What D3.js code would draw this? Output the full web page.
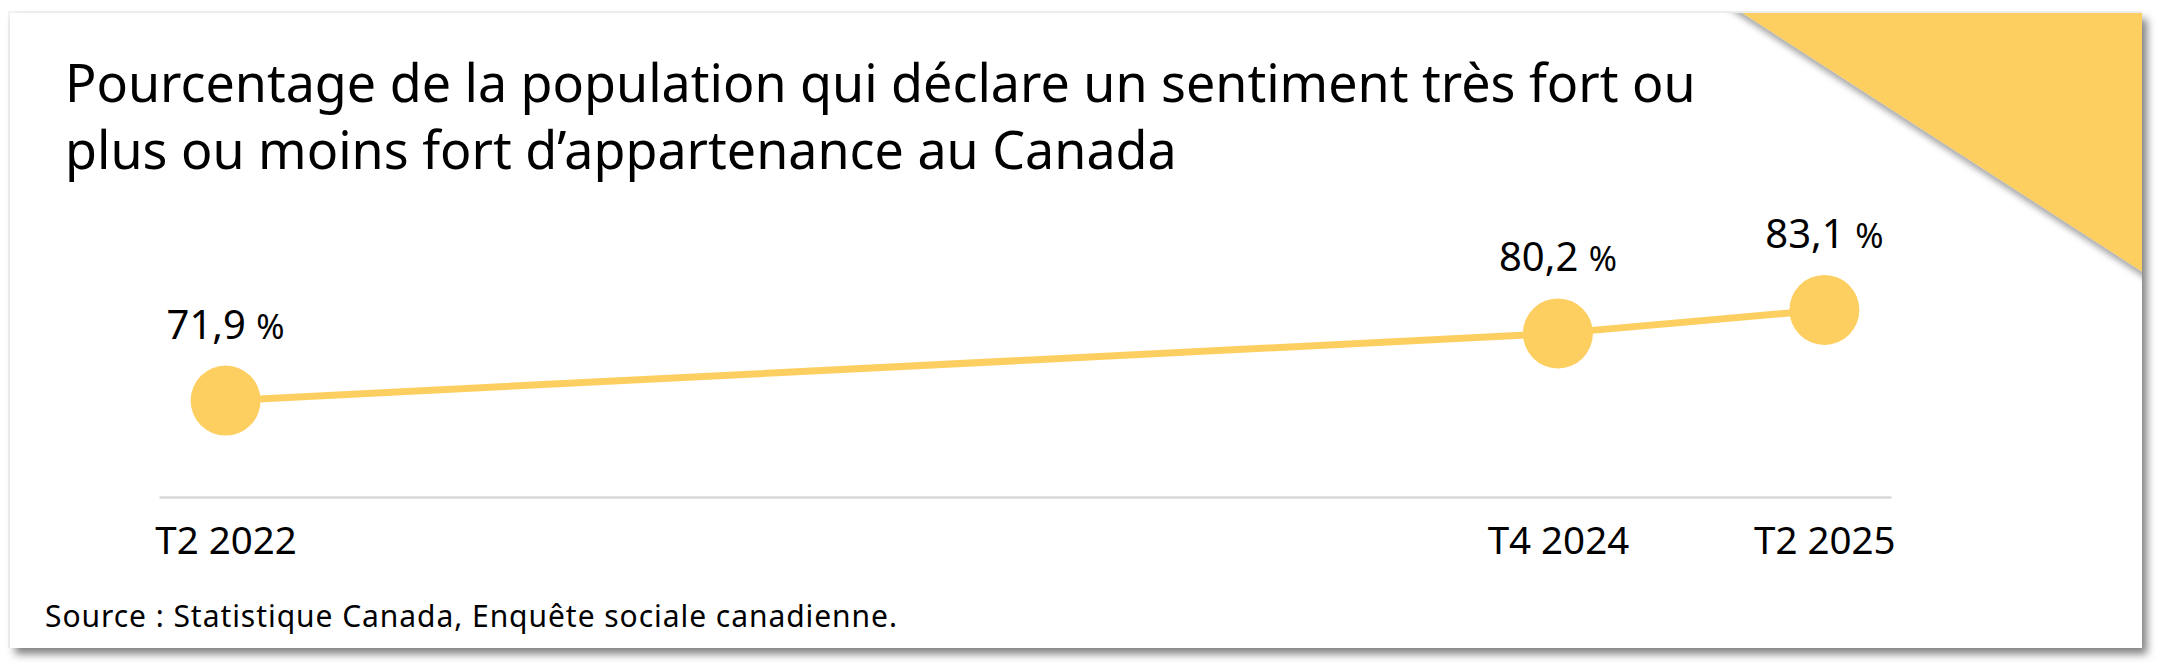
<!DOCTYPE html>
<html>
<head>
<meta charset="utf-8">
<script src="https://cdn.jsdelivr.net/npm/d3@7"></script>
<style>
  html, body { margin: 0; padding: 0; background: #ffffff; }
  svg { display: block; font-family: "Noto Sans", "Open Sans", sans-serif; }
</style>
</head>
<body>
<svg id="chart" width="2168" height="663"></svg>
<script>
// ---- Data ----
const titleLines = [
  "Pourcentage de la population qui déclare un sentiment très fort ou",
  "plus ou moins fort d\u2019appartenance au Canada"
];
const periods = ["T2 2022", "T4 2024", "T2 2025"];
const values = [71.9, 80.2, 83.1];
const sourceText = "Source : Statistique Canada, Enquête sociale canadienne.";

// ---- Setup ----
const W = 2168, H = 663;
const yellow = "#FDCF61";
const svg = d3.select("#chart");

const defs = svg.append("defs");
const f = defs.append("filter").attr("id", "cardShadow")
  .attr("x", "-5%").attr("y", "-10%").attr("width", "110%").attr("height", "125%");
f.append("feDropShadow").attr("dx", 5).attr("dy", 6).attr("stdDeviation", 4.5)
  .attr("flood-color", "#000").attr("flood-opacity", 0.5);
const f2 = defs.append("filter").attr("id", "triShadow")
  .attr("x", "-20%").attr("y", "-20%").attr("width", "140%").attr("height", "140%");
f2.append("feDropShadow").attr("dx", -1).attr("dy", 4).attr("stdDeviation", 3)
  .attr("flood-color", "#000").attr("flood-opacity", 0.35);

const card = { x0: 10, y0: 13, x1: 2142, y1: 648 };

// faint top/left shadow
svg.append("rect")
  .attr("x", card.x0 - 2).attr("y", card.y0 - 2)
  .attr("width", card.x1 - card.x0 + 2).attr("height", card.y1 - card.y0 + 2)
  .attr("fill", "#f3f3f3");

svg.append("rect")
  .attr("x", card.x0).attr("y", card.y0)
  .attr("width", card.x1 - card.x0).attr("height", card.y1 - card.y0)
  .attr("fill", "#ffffff")
  .attr("filter", "url(#cardShadow)");

// corner triangle (clipped to card)
defs.append("clipPath").attr("id", "cardClip")
  .append("rect").attr("x", card.x0).attr("y", card.y0)
  .attr("width", card.x1 - card.x0).attr("height", card.y1 - card.y0);
svg.append("g").attr("clip-path", "url(#cardClip)")
  .append("path")
  .attr("d", `M1727,${card.y0 - 10} L${card.x1 + 10},${card.y0 - 10} L${card.x1 + 10},${272 + 6} Z`)
  .attr("fill", yellow)
  .attr("filter", "url(#triShadow)");

// Title
const title = svg.append("text")
  .attr("font-size", 52)
  .attr("fill", "#000");
titleLines.forEach((t, i) => {
  title.append("tspan").attr("x", 65).attr("y", 102 + i * 67).text(t);
});

// ---- Scales ----
const qIndex = p => {
  const m = p.match(/T(\d)\s+(\d{4})/);
  return (+m[2]) * 4 + (+m[1] - 1);
};
const q0 = qIndex(periods[0]);
const qs = periods.map(p => qIndex(p) - q0);

const x = d3.scaleLinear()
  .domain([-0.5, d3.max(qs) + 0.5])
  .range([159, 1891]);
const y = d3.scaleLinear()
  .domain([60, 100])
  .range([497, 173]);

// Axis
const axis = d3.axisBottom(x)
  .tickValues(qs)
  .tickFormat((d, i) => periods[i])
  .tickSize(0)
  .tickSizeOuter(0)
  .tickPadding(30);

const ax = svg.append("g")
  .attr("transform", `translate(0,${y(60)})`)
  .call(axis);
ax.select(".domain").attr("stroke", "#d9d9d9").attr("stroke-width", 2.5);
ax.selectAll(".tick text")
  .attr("font-family", "\"Noto Sans\", \"Open Sans\", sans-serif")
  .attr("font-size", 38.5)
  .attr("fill", "#000");

// Line
const pts = periods.map((p, i) => ({ p, q: qs[i], v: values[i] }));
svg.append("path")
  .datum(pts)
  .attr("d", d3.line().x(d => x(d.q)).y(d => y(d.v)))
  .attr("fill", "none")
  .attr("stroke", yellow)
  .attr("stroke-width", 7);

svg.append("g").selectAll("circle")
  .data(pts).join("circle")
  .attr("cx", d => x(d.q))
  .attr("cy", d => y(d.v))
  .attr("r", 35)
  .attr("fill", yellow);

// Value labels
const fmt = v => d3.format(".1f")(v).replace(".", ",");
const lbl = svg.append("g").selectAll("text")
  .data(pts).join("text")
  .attr("x", d => x(d.q))
  .attr("y", d => y(d.v) - 62)
  .attr("text-anchor", "middle")
  .attr("font-size", 40)
  .attr("fill", "#000");
lbl.append("tspan").text(d => fmt(d.v) + "\u00a0");
lbl.append("tspan").attr("font-size", 34).text("%");

// Source (spaced to the reference width)
const src = svg.append("text")
  .attr("x", 45).attr("y", 627)
  .attr("font-size", 30)
  .attr("fill", "#000")
  .text(sourceText);
const sw = src.node().getComputedTextLength();
const targetW = 852;
src.attr("letter-spacing", ((targetW - sw) / (sourceText.length - 1)).toFixed(3));
</script>
</body>
</html>
